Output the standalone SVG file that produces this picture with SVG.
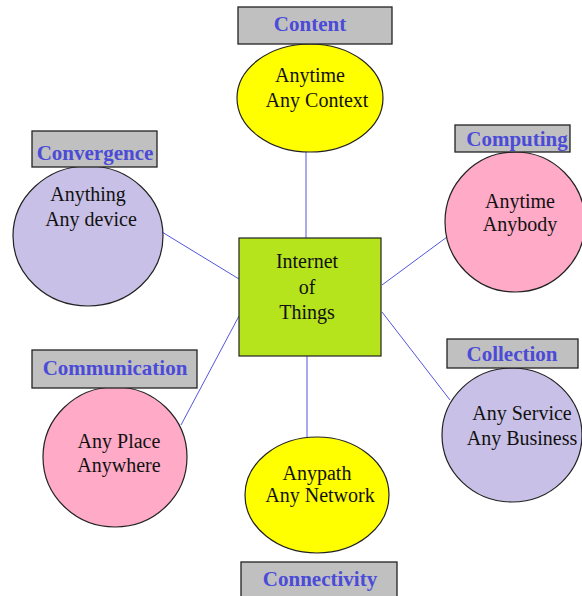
<svg xmlns="http://www.w3.org/2000/svg" width="582" height="596" viewBox="0 0 582 596">
<style>
.lbl{fill:#c0c0c0;stroke:#222;stroke-width:1.3}
.lt{font-weight:bold;font-size:21px;fill:#4b4bd8;text-anchor:middle}
.t{font-size:20px;fill:#111;text-anchor:middle}
.c{stroke:#222;stroke-width:1.2}
.y{fill:#ffff00}
.l{fill:#c8c0e6}
.p{fill:#ffaac6}
.con line{stroke:#5555e0;stroke-width:1}
</style>
<rect width="582" height="596" fill="#fff"/>
<g class="con" id="connectors">
<line x1="306" y1="152" x2="306" y2="238"/>
<line x1="162" y1="232" x2="239" y2="279"/>
<line x1="382" y1="285" x2="447" y2="237"/>
<line x1="181" y1="425" x2="239" y2="316"/>
<line x1="382" y1="312" x2="450" y2="400"/>
<line x1="307" y1="356" x2="307" y2="437"/>
</g>
<g font-family="'Liberation Serif', serif">
<g id="iot">
<rect x="239" y="238" width="142" height="118" fill="#b5e31c" stroke="#222" stroke-width="1.2"/>
<text class="t" x="307" y="268">Internet</text>
<text class="t" x="307" y="294">of</text>
<text class="t" x="307" y="319">Things</text>
</g>
<g id="content">
<ellipse class="c y" cx="310" cy="98" rx="73" ry="54"/>
<rect class="lbl" x="238" y="7" width="154" height="37"/>
<text class="lt" x="310" y="31">Content</text>
<text class="t" x="310" y="82">Anytime</text>
<text class="t" x="317" y="107">Any Context</text>
</g>
<g id="convergence">
<ellipse class="c l" cx="88" cy="236" rx="75" ry="70"/>
<rect class="lbl" x="32" y="131" width="125" height="36"/>
<text class="lt" x="95" y="160">Convergence</text>
<text class="t" x="88" y="201">Anything</text>
<text class="t" x="91" y="226">Any device</text>
</g>
<g id="computing">
<ellipse class="c p" cx="515" cy="222" rx="70" ry="70"/>
<rect class="lbl" x="455" y="125" width="115" height="27"/>
<text class="lt" x="517" y="146">Computing</text>
<text class="t" x="520" y="208">Anytime</text>
<text class="t" x="520" y="231">Anybody</text>
</g>
<g id="communication">
<ellipse class="c p" cx="115" cy="457" rx="72" ry="70"/>
<rect class="lbl" x="32" y="350" width="165" height="38"/>
<text class="lt" x="115" y="375">Communication</text>
<text class="t" x="119" y="448">Any Place</text>
<text class="t" x="119" y="472">Anywhere</text>
</g>
<g id="collection">
<ellipse class="c l" cx="512" cy="435" rx="70" ry="67"/>
<rect class="lbl" x="447" y="339" width="131" height="29"/>
<text class="lt" x="512" y="361">Collection</text>
<text class="t" x="522" y="420">Any Service</text>
<text class="t" x="522" y="445">Any Business</text>
</g>
<g id="connectivity">
<ellipse class="c y" cx="317" cy="495" rx="72" ry="58"/>
<rect class="lbl" x="241" y="562" width="156" height="36"/>
<text class="lt" x="320" y="586">Connectivity</text>
<text class="t" x="317" y="480">Anypath</text>
<text class="t" x="320" y="502">Any Network</text>
</g>
</g>
</svg>
